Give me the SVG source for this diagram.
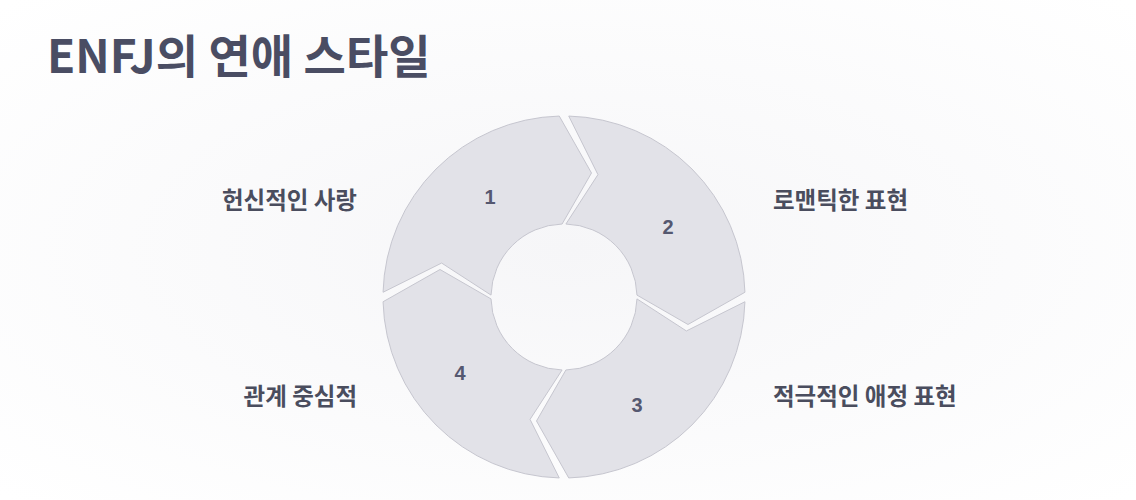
<svg xmlns="http://www.w3.org/2000/svg" width="1136" height="500" viewBox="0 0 1136 500">
<defs>
<style>
.seg{fill:#e2e2e8;stroke:#c6c6cf;stroke-width:1}
.num{font-family:"Liberation Sans","Noto Sans CJK KR",sans-serif;font-size:20px;font-weight:bold;fill:#555870;text-anchor:middle}
.lbl{font-family:"Noto Sans CJK KR","Liberation Sans",sans-serif;font-size:23.5px;font-weight:bold;fill:#4a4d5e}
</style>
<radialGradient id="bg" cx="0.5" cy="0.5" r="0.7"><stop offset="0" stop-color="#f6f6f8"/><stop offset="1" stop-color="#ffffff"/></radialGradient>
<path id="s" d="M383.06,292.26 A181,181 0 0 1 559.26,116.06 L591.49,173.01 L562.09,224.02 A73,73 0 0 0 491.02,295.09 L441.62,263.06 Z"/>
</defs>
<rect width="1136" height="500" fill="url(#bg)"/>
<text x="47" y="73" style="font-family:'Noto Sans CJK KR','Liberation Sans',sans-serif;font-size:46px;font-weight:bold;fill:#4a4d63">ENFJ의 연애 스타일</text>
<g id="connectors"></g>
<g id="node1"><use href="#s" class="seg"/><text class="num" x="490" y="204">1</text><text class="lbl" x="357" y="209" text-anchor="end">헌신적인 사랑</text></g>
<g id="node2"><use href="#s" class="seg" transform="rotate(90 564 297)"/><text class="num" x="668" y="234">2</text><text class="lbl" x="773" y="209">로맨틱한 표현</text></g>
<g id="node3"><use href="#s" class="seg" transform="rotate(180 564 297)"/><text class="num" x="637" y="412">3</text><text class="lbl" x="773" y="405">적극적인 애정 표현</text></g>
<g id="node4"><use href="#s" class="seg" transform="rotate(270 564 297)"/><text class="num" x="460" y="380">4</text><text class="lbl" x="357" y="405" text-anchor="end">관계 중심적</text></g>
</svg>
